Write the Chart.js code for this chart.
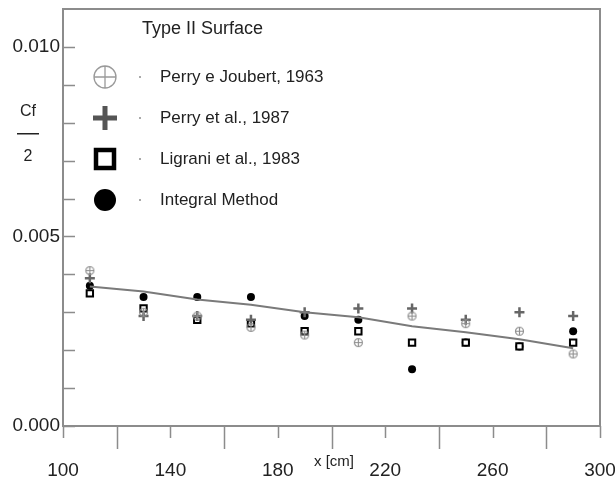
<!DOCTYPE html>
<html lang="en">
<head>
  <meta charset="UTF-8">
  <title>Type II Surface - Cf/2</title>
  <script src="https://cdn.jsdelivr.net/npm/chart.js"></script>
  <style>
    body {
      margin: 0;
      background-color: #ffffff;
    }
    #chart {
      display: block;
    }
  </style>
</head>
<body>
  <canvas id="chart" width="615" height="480"></canvas>

  <script>
// Station positions along the plate (cm)
const xStations = [110, 130, 150, 170, 190, 210, 230, 250, 270, 290];

// Cf/2 values
const perryJoubert = [0.0041, 0.0030, 0.0029, 0.0026, 0.0024, 0.0022, 0.0029, 0.0027, 0.0025, 0.0019];
const perry1987    = [0.0039, 0.0029, 0.0029, 0.0028, 0.0030, 0.0031, 0.0031, 0.0028, 0.0030, 0.0029];
const ligrani      = [0.0035, 0.0031, 0.0028, 0.0027, 0.0025, 0.0025, 0.0022, 0.0022, 0.0021, 0.0022];
const integral     = [0.0037, 0.0034, 0.0034, 0.0034, 0.0029, 0.0028, 0.0015, 0.0022, 0.0021, 0.0025];
const fitLine      = [0.00368, 0.00355, 0.00334, 0.0032, 0.0030, 0.00287, 0.00263, 0.00247, 0.00229, 0.00205];

// Axis tick labels
const xTickLabels = [100, 140, 180, 220, 260, 300];
const yTickLabels = [0.000, 0.005, 0.010];

const legendNames = ['Perry e Joubert, 1963', 'Perry et al., 1987', 'Ligrani et al., 1983', 'Integral Method'];
const legendTitle = 'Type II Surface';

const FONT = "'Liberation Sans', Arial, sans-serif";
const frameColor = '#8c8c8c';

const toPoints = arr => arr.map((v, i) => ({ x: xStations[i], y: v }));

// small circle with a cross inside, used for Perry e Joubert
function crossCircle(r, color, lw) {
  const c = document.createElement('canvas');
  const s = Math.ceil(r * 2 + lw * 2 + 2);
  c.width = s; c.height = s;
  const g = c.getContext('2d');
  g.strokeStyle = color;
  g.lineWidth = lw;
  g.beginPath();
  g.arc(s / 2, s / 2, r, 0, Math.PI * 2);
  g.moveTo(s / 2 - r, s / 2); g.lineTo(s / 2 + r, s / 2);
  g.moveTo(s / 2, s / 2 - r); g.lineTo(s / 2, s / 2 + r);
  g.stroke();
  return c;
}

// frame + ticks drawn by hand (ticks inward on y, outward on x with two lengths)
const framePlugin = {
  id: 'frame',
  beforeDatasetsDraw(chart) {
    const { ctx, chartArea: a, scales } = chart;
    ctx.save();
    ctx.strokeStyle = frameColor;
    ctx.lineWidth = 2;
    ctx.strokeRect(a.left, a.top, a.right - a.left, a.bottom - a.top);

    ctx.lineWidth = 1.5;
    ctx.beginPath();
    scales.y.ticks.forEach(t => {
      const py = Math.round(scales.y.getPixelForValue(t.value)) + 0.5;
      if (t.value > 0.0105) return;
      ctx.moveTo(a.left, py);
      ctx.lineTo(a.left + 12, py);
    });
    scales.x.ticks.forEach(t => {
      const px = Math.round(scales.x.getPixelForValue(t.value)) + 0.5;
      const labelled = xTickLabels.includes(Math.round(t.value));
      ctx.moveTo(px, a.bottom);
      ctx.lineTo(px, a.bottom + (labelled ? 12 : 23));
    });
    ctx.stroke();
    ctx.restore();
  },
  afterDraw(chart) {
    const { ctx } = chart;
    ctx.save();
    ctx.fillStyle = '#222';

    // legend title
    ctx.font = '18px ' + FONT;
    ctx.textBaseline = 'middle';
    ctx.textAlign = 'left';
    ctx.fillText(legendTitle, 142, 29);

    // legend entries
    ctx.font = '17px ' + FONT;
    const rows = [77, 118, 159, 200];
    const mx = 105;
    legendNames.forEach((name, i) => {
      const y = rows[i];
      ctx.fillStyle = '#222';
      ctx.fillText(name, 160, y);
      ctx.fillStyle = '#aaa';
      ctx.fillRect(139, y - 1, 2, 2);
    });
    // crossed circle
    ctx.strokeStyle = '#9a9a9a';
    ctx.lineWidth = 1.3;
    ctx.beginPath();
    ctx.arc(mx, rows[0], 11, 0, Math.PI * 2);
    ctx.moveTo(mx - 11, rows[0]); ctx.lineTo(mx + 11, rows[0]);
    ctx.moveTo(mx, rows[0] - 11); ctx.lineTo(mx, rows[0] + 11);
    ctx.stroke();
    // bold plus
    ctx.strokeStyle = '#555';
    ctx.lineWidth = 5;
    ctx.beginPath();
    ctx.moveTo(mx - 12, rows[1]); ctx.lineTo(mx + 12, rows[1]);
    ctx.moveTo(mx, rows[1] - 12); ctx.lineTo(mx, rows[1] + 12);
    ctx.stroke();
    // open square
    ctx.strokeStyle = '#000';
    ctx.lineWidth = 4.5;
    ctx.strokeRect(mx - 9, rows[2] - 9, 18, 18);
    // filled dot
    ctx.fillStyle = '#000';
    ctx.beginPath();
    ctx.arc(mx, rows[3], 11, 0, Math.PI * 2);
    ctx.fill();

    // y axis title as a fraction Cf / 2
    ctx.fillStyle = '#222';
    ctx.textAlign = 'center';
    ctx.font = '16px ' + FONT;
    ctx.fillText('Cf', 28, 112);
    ctx.fillRect(17, 133, 22, 1.5);
    ctx.fillText('2', 28, 157);

    // x axis title
    ctx.font = '15px ' + FONT;
    ctx.fillText('x [cm]', 334, 462);
    ctx.restore();
  }
};

const scatterStyle = (label, data, pointStyle, color, radius, extra) => Object.assign({
  type: 'scatter',
  label: label,
  data: toPoints(data),
  pointStyle: pointStyle,
  pointRadius: radius,
  pointHoverRadius: radius,
  borderColor: color,
  backgroundColor: color,
  showLine: false
}, extra || {});

new Chart(document.getElementById('chart'), {
  data: {
    datasets: [
      {
        type: 'line',
        label: 'fit',
        data: toPoints(fitLine),
        borderColor: '#7a7a7a',
        borderWidth: 2,
        pointRadius: 0,
        tension: 0,
        fill: false
      },
      scatterStyle(legendNames[0], perryJoubert, crossCircle(4, '#8f8f8f', 1.2), '#8f8f8f', 5),
      scatterStyle(legendNames[1], perry1987, 'cross', '#666', 5, { borderWidth: 2.5 }),
      scatterStyle(legendNames[2], ligrani, 'rect', '#000', 4.5, { backgroundColor: '#fff', borderWidth: 2 }),
      scatterStyle(legendNames[3], integral, 'circle', '#000', 4, { borderWidth: 0 })
    ]
  },
  options: {
    responsive: false,
    animation: false,
    layout: { padding: { top: 9, right: 15, left: 0, bottom: 0 } },
    plugins: {
      legend: { display: false },
      tooltip: { enabled: false }
    },
    scales: {
      x: {
        type: 'linear',
        min: 100,
        max: 300,
        border: { display: false },
        grid: { display: false, drawTicks: false },
        ticks: {
          stepSize: 20,
          padding: 33,
          color: '#222',
          font: { family: FONT, size: 19 },
          maxRotation: 0,
          callback: v => xTickLabels.includes(Math.round(v)) ? String(Math.round(v)) : ''
        },
        afterFit: s => { s.height = 54; s.paddingLeft = 0; s.paddingRight = 0; }
      },
      y: {
        type: 'linear',
        min: 0,
        max: 0.011,
        border: { display: false },
        grid: { display: false, drawTicks: false },
        ticks: {
          stepSize: 0.001,
          padding: 3,
          color: '#222',
          font: { family: FONT, size: 19 },
          callback: v => {
            const hit = yTickLabels.find(t => Math.abs(t - v) < 1e-7);
            return hit !== undefined ? hit.toFixed(3) : '';
          }
        },
        afterFit: s => { s.width = 63; s.paddingTop = 0; s.paddingBottom = 0; }
      }
    }
  },
  plugins: [framePlugin]
});
  </script>
</body>
</html>
